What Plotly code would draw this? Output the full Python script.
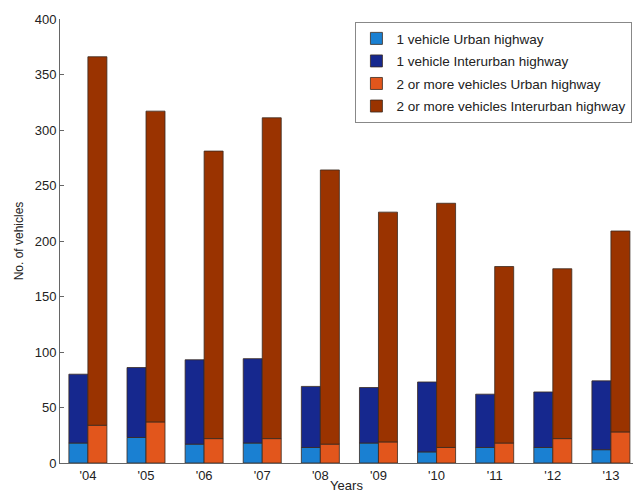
import plotly.graph_objects as go

years = ["'04", "'05", "'06", "'07", "'08", "'09", "'10", "'11", "'12", "'13"]
one_urban = [18, 23, 17, 18, 14, 18, 10, 14, 14, 12]
one_interurban = [62, 63, 76, 76, 55, 50, 63, 48, 50, 62]
two_urban = [34, 37, 22, 22, 17, 19, 14, 18, 22, 28]
two_interurban = [332, 280, 259, 289, 247, 207, 220, 159, 153, 181]

names = ["1 vehicle Urban highway", "1 vehicle Interurban highway",
         "2 or more vehicles Urban highway", "2 or more vehicles Interurban highway"]
colors = ["#1a80d2", "#16288e", "#e2561c", "#9a3300"]
line_c = "#3a2a20"
FONT = "Liberation Sans, Arial, sans-serif"

fig = go.Figure()
fig.add_trace(go.Bar(x=years, y=one_urban, name=names[0], offsetgroup="a", legendgroup="g1",
                     marker=dict(color=colors[0], line=dict(color=line_c, width=0.8))))
fig.add_trace(go.Bar(x=years, y=one_interurban, base=one_urban, name=names[1], offsetgroup="a",
                     legendgroup="g2",
                     marker=dict(color=colors[1], line=dict(color=line_c, width=0.8))))
fig.add_trace(go.Bar(x=years, y=two_urban, name=names[2], offsetgroup="b", legendgroup="g3",
                     marker=dict(color=colors[2], line=dict(color=line_c, width=0.8))))
fig.add_trace(go.Bar(x=years, y=two_interurban, base=two_urban, name=names[3], offsetgroup="b",
                     legendgroup="g4",
                     marker=dict(color=colors[3], line=dict(color=line_c, width=0.8))))

fig.update_layout(
    width=633, height=493,
    margin=dict(l=60, r=0, t=19, b=30),
    paper_bgcolor="white", plot_bgcolor="white",
    barmode="group", bargap=0.346, bargroupgap=0,
    font=dict(family=FONT, size=13, color="#222"),
    showlegend=True,
    legend=dict(x=0.999, xanchor="right", y=0.993, yanchor="top",
                bordercolor="#888", borderwidth=1, bgcolor="white",
                font=dict(size=13.5, family=FONT, color="#222"),
                traceorder="grouped", tracegroupgap=2),
    xaxis=dict(type="category", range=[-0.48, 9.38], showline=True, linecolor="#666",
               linewidth=1, ticks="", showgrid=False, zeroline=False, automargin=False,
               tickfont=dict(size=13),
               title=dict(text="Years", font=dict(size=13), standoff=7)),
    yaxis=dict(range=[0, 400], dtick=50, showline=True, linecolor="#666", linewidth=1,
               ticks="inside", ticklen=4, tickcolor="#666", showgrid=False, zeroline=False,
               automargin=False,
               tickfont=dict(size=13),
               title=dict(text="No. of vehicles", font=dict(size=12), standoff=8)),
)

fig.write_html("out.html", config={"displayModeBar": False},
               post_script="document.body.style.margin='0px';document.body.style.overflow='hidden';")
